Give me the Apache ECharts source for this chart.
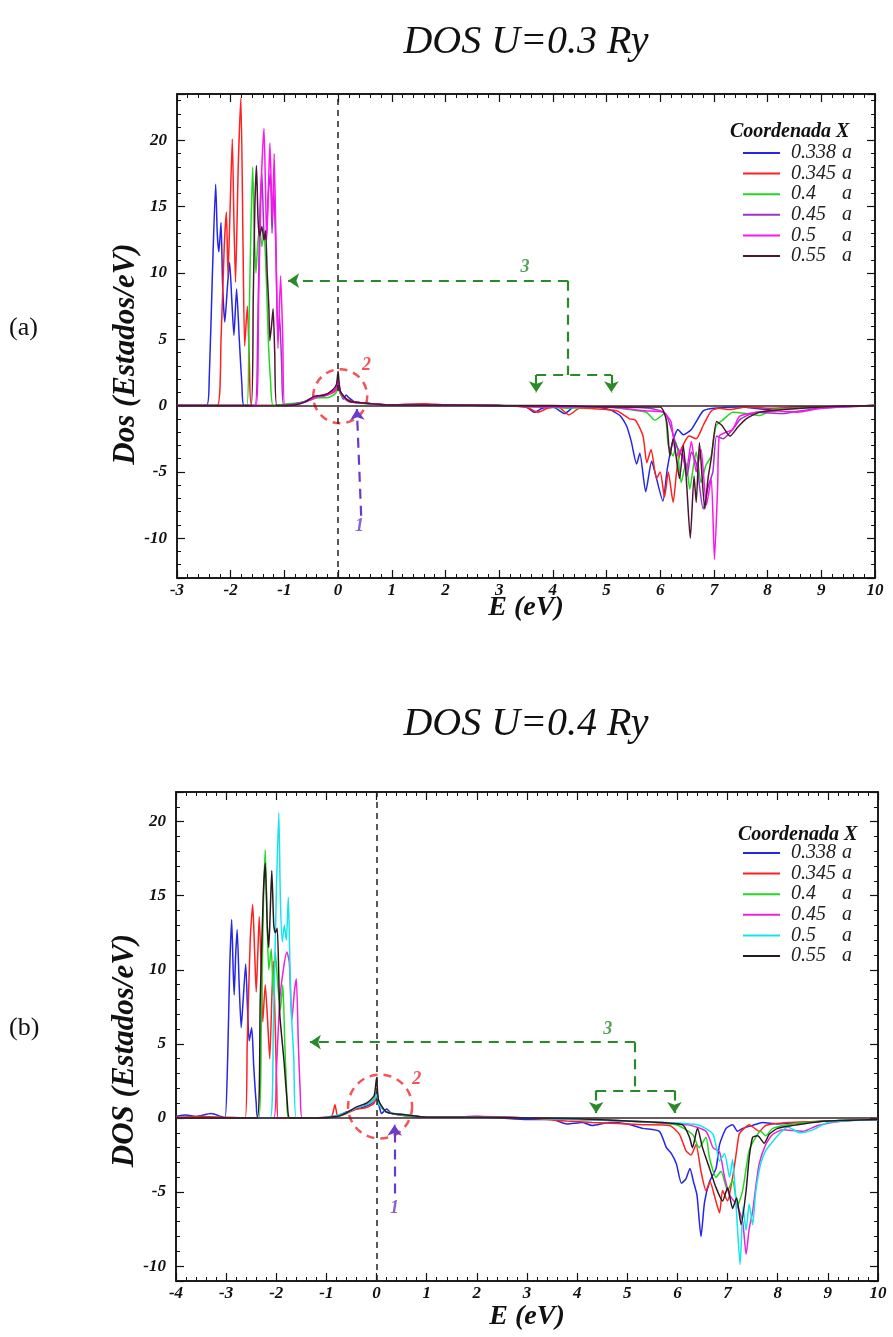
<!DOCTYPE html>
<html>
<head>
<meta charset="utf-8">
<script src="https://cdn.jsdelivr.net/npm/echarts@6/dist/echarts.min.js"></script>
<style>
html, body { margin: 0; padding: 0; background: #fff; }
#chart { width: 893px; height: 1337px; }
</style>
</head>
<body>
<div id="chart"></div>
<script>
// legend entries (Coordenada X)
const coords = ['0.338', '0.345', '0.4', '0.45', '0.5', '0.55'];

// panel (a): DOS U=0.3 Ry, [E (eV), DOS]
const dosA338 = [[-3,0],[-2.45,0],[-2.40,2],[-2.34,10],[-2.28,16.7],[-2.25,13],[-2.22,11.6],[-2.18,13.8],[-2.15,9],[-2.11,6.3],[-2.06,9],[-2.02,10.8],[-1.98,8],[-1.94,5.3],[-1.89,8.8],[-1.84,5],[-1.79,1.5],[-1.75,0],[-1.2,0],[-1.0,0.05],[-0.7,0.2],[-0.45,0.6],[-0.3,0.7],[-0.15,0.9],[-0.05,1.2],[0,1.5],[0.05,0.9],[0.1,0.5],[0.15,0.8],[0.2,0.6],[0.3,0.3],[0.5,0.2],[1,0.05],[1.5,0.1],[2,0.05],[3,0],[3.5,-0.1],[3.66,-0.5],[3.8,-0.2],[4.0,-0.1],[4.22,-0.6],[4.4,-0.1],[4.8,-0.1],[5.06,-0.3],[5.25,-0.75],[5.37,-1.5],[5.46,-2.7],[5.56,-4.4],[5.62,-3.6],[5.73,-6.5],[5.84,-4.2],[5.9,-5.0],[6.05,-7.2],[6.13,-4.8],[6.24,-2.6],[6.33,-1.8],[6.43,-2.2],[6.58,-1.8],[6.8,-0.4],[7.0,-0.2],[7.5,-0.1],[8.0,-0.3],[8.5,-0.1],[9,-0.1],[10,0]];
const dosA345 = [[-3,0],[-2.25,0],[-2.18,5],[-2.12,12],[-2.08,14.6],[-2.05,9.8],[-2.01,15],[-1.97,20.1],[-1.94,14],[-1.91,9.3],[-1.86,18],[-1.81,23.2],[-1.77,12],[-1.74,4.5],[-1.69,7.5],[-1.65,3],[-1.61,0],[-1.2,0],[-0.9,0.1],[-0.6,0.3],[-0.4,0.6],[-0.2,0.8],[-0.05,1.1],[0,1.6],[0.05,1.0],[0.15,0.5],[0.3,0.3],[0.6,0.15],[1,0.05],[1.6,0.15],[2,0.05],[3,0],[3.5,-0.1],[3.72,-0.5],[3.9,-0.2],[4.1,-0.1],[4.3,-0.7],[4.5,-0.2],[5.0,-0.3],[5.2,-0.4],[5.43,-1.0],[5.54,-1.1],[5.68,-2.3],[5.75,-4.3],[5.83,-3.3],[5.93,-5.5],[6.0,-5.0],[6.08,-6.9],[6.15,-5.0],[6.24,-7.3],[6.31,-4.8],[6.39,-3.3],[6.54,-2.3],[6.67,-2.5],[6.8,-1.5],[6.95,-0.4],[7.1,-0.2],[7.3,-0.3],[7.6,-0.1],[8,-0.2],[9,-0.1],[10,0]];
const dosA40 = [[-3,0],[-1.7,0],[-1.66,6],[-1.62,14],[-1.59,18],[-1.56,13],[-1.53,10],[-1.5,12],[-1.46,13.5],[-1.42,12],[-1.38,13],[-1.34,10],[-1.3,5],[-1.26,2],[-1.21,0],[-1.0,0.1],[-0.6,0.3],[-0.4,0.6],[-0.2,0.6],[-0.05,0.9],[0,1.3],[0.05,0.8],[0.2,0.3],[0.5,0.15],[1,0.05],[2,0.05],[3,0],[3.8,-0.1],[4.3,-0.2],[5,-0.1],[5.43,-0.3],[5.74,-0.5],[5.9,-1.1],[6.08,-0.6],[6.15,-3.0],[6.24,-3.8],[6.3,-2.8],[6.39,-5.8],[6.48,-4.3],[6.55,-6.3],[6.62,-4.5],[6.67,-3.5],[6.76,-5.8],[6.85,-4.5],[6.95,-3.8],[7.04,-1.5],[7.16,-1.1],[7.35,-0.5],[7.6,-0.6],[7.85,-0.75],[8.1,-0.3],[8.6,-0.2],[9.2,-0.1],[10,0]];
const dosA45 = [[-3,0],[-1.55,0],[-1.5,5],[-1.46,14],[-1.42,17.5],[-1.38,13],[-1.34,12.5],[-1.3,16],[-1.26,17.5],[-1.23,13],[-1.2,16.5],[-1.16,12],[-1.12,5],[-1.09,6.8],[-1.05,3],[-1.01,0],[-0.6,0.3],[-0.4,0.7],[-0.2,0.9],[-0.05,1.3],[0,2.0],[0.05,1.0],[0.2,0.35],[0.6,0.15],[1,0.05],[2,0.05],[3,0],[4,-0.1],[5,-0.1],[5.8,-0.2],[6.1,-0.6],[6.3,-3],[6.43,-4],[6.5,-5.3],[6.58,-3.5],[6.68,-4.5],[6.8,-7.8],[6.9,-6.0],[6.98,-5.0],[7.05,-2.3],[7.17,-2.5],[7.35,-1.8],[7.5,-1.0],[7.8,-0.5],[8.3,-0.6],[8.6,-0.4],[9,-0.2],[10,0]];
const dosA50 = [[-3,0],[-1.53,0],[-1.48,8],[-1.43,17],[-1.38,20.9],[-1.35,16],[-1.33,12.5],[-1.3,16],[-1.27,19.8],[-1.24,16],[-1.22,14],[-1.19,19],[-1.16,13],[-1.12,4.3],[-1.07,9.8],[-1.03,5],[-0.99,0],[-0.8,0.05],[-0.6,0.3],[-0.4,0.65],[-0.2,0.8],[-0.05,1.2],[0,1.8],[0.05,0.9],[0.2,0.3],[0.6,0.15],[1,0.05],[2,0.05],[3,0],[4,-0.1],[5,-0.1],[5.74,-0.4],[6.05,-0.5],[6.2,-1.2],[6.3,-3.8],[6.39,-3.3],[6.49,-4.8],[6.58,-2.7],[6.67,-5],[6.76,-3.3],[6.86,-7.5],[6.95,-5.5],[7.01,-11.6],[7.07,-6],[7.1,-2.3],[7.23,-2.0],[7.35,-1.8],[7.48,-0.8],[7.8,-0.5],[8.2,-0.4],[8.55,-0.5],[9,-0.2],[10,0]];
const dosA55 = [[-3,0],[-1.62,0],[-1.58,8],[-1.55,15],[-1.52,18.1],[-1.49,14],[-1.46,12.8],[-1.42,13.5],[-1.38,12.5],[-1.35,13.2],[-1.32,10],[-1.29,7.5],[-1.27,4.9],[-1.24,6],[-1.21,7.3],[-1.18,4],[-1.14,0],[-0.8,0.05],[-0.6,0.3],[-0.45,0.7],[-0.25,0.8],[-0.1,1.2],[-0.03,1.6],[0,2.6],[0.04,1.1],[0.2,0.35],[0.6,0.15],[1,0.05],[2,0.05],[3,0],[4,0],[5,-0.1],[6.0,-0.1],[6.12,-1.2],[6.18,-3.8],[6.24,-2.5],[6.36,-5.5],[6.43,-3.0],[6.49,-5.8],[6.56,-10.0],[6.63,-5.3],[6.67,-7.3],[6.73,-2.8],[6.83,-7.8],[6.89,-5.5],[6.95,-4],[7.05,-1.2],[7.15,-1.5],[7.3,-2.3],[7.45,-1.6],[7.6,-1.0],[7.85,-0.5],[8.3,-0.3],[9,-0.1],[10,0]];

// panel (b): DOS U=0.4 Ry
const dosB338 = [[-4,0.1],[-3.8,0.2],[-3.6,0.1],[-3.3,0.3],[-3.1,0.1],[-3.02,0],[-2.97,4],[-2.93,10],[-2.89,13.4],[-2.86,10],[-2.84,8.3],[-2.81,11],[-2.78,12.7],[-2.74,9],[-2.70,6.1],[-2.66,8],[-2.61,10.4],[-2.57,7],[-2.54,5.2],[-2.49,6.1],[-2.45,3.5],[-2.4,1],[-2.36,0],[-1.2,0],[-0.8,0.1],[-0.6,0.4],[-0.4,0.6],[-0.2,0.8],[-0.05,1.1],[0,1.3],[0.05,0.8],[0.1,0.3],[0.2,0.6],[0.3,0.3],[0.6,0.15],[1,0.05],[2,0.1],[2.5,0],[3,-0.1],[3.5,-0.1],[3.8,-0.4],[4.1,-0.3],[4.3,-0.5],[4.65,-0.3],[5.0,-0.4],[5.31,-0.7],[5.64,-0.9],[5.78,-2.0],[5.88,-2.4],[5.98,-3.1],[6.08,-4.4],[6.17,-4.1],[6.25,-3.4],[6.32,-4.3],[6.39,-5.2],[6.47,-8.0],[6.54,-5.7],[6.64,-4.3],[6.77,-3.4],[6.84,-1.8],[6.97,-0.7],[7.1,-0.45],[7.2,-0.9],[7.3,-0.7],[7.5,-0.5],[7.7,-0.3],[8,-0.4],[8.5,-0.3],[9,-0.2],[10,-0.1]];
const dosB345 = [[-4,0.05],[-3.5,0.1],[-3,0.05],[-2.62,0],[-2.58,5],[-2.52,12],[-2.47,14.4],[-2.43,11],[-2.4,8.5],[-2.37,11],[-2.34,13.6],[-2.3,10],[-2.27,6.5],[-2.22,9],[-2.18,7],[-2.13,4.0],[-2.09,8],[-2.06,10.6],[-2.02,6],[-1.99,2],[-1.96,0],[-1.2,0],[-0.9,0.1],[-0.83,0.9],[-0.77,0.1],[-0.6,0.3],[-0.4,0.6],[-0.2,0.7],[-0.05,1.0],[0,1.5],[0.05,0.9],[0.2,0.4],[0.6,0.15],[1,0.05],[2,0.1],[3,0],[3.8,-0.2],[4.3,-0.3],[5.31,-0.45],[5.84,-0.5],[6.04,-1.1],[6.17,-2.2],[6.27,-2.5],[6.37,-1.8],[6.47,-3.6],[6.57,-4.9],[6.65,-4.3],[6.75,-5.4],[6.84,-6.4],[6.9,-4.9],[7.0,-5.6],[7.1,-4.0],[7.16,-2.7],[7.23,-1.1],[7.3,-0.8],[7.43,-0.45],[7.63,-0.9],[7.76,-0.5],[8.2,-0.3],[9,-0.2],[10,-0.1]];
const dosB40 = [[-4,0],[-2.35,0],[-2.3,6],[-2.26,14],[-2.22,18.1],[-2.18,13],[-2.15,10],[-2.1,11.4],[-2.06,8.3],[-2.02,11.2],[-1.97,9],[-1.92,7.3],[-1.87,9],[-1.83,5],[-1.79,1.5],[-1.76,0],[-1.2,0],[-0.8,0.1],[-0.6,0.35],[-0.4,0.7],[-0.2,0.9],[-0.05,1.3],[0,1.8],[0.05,1.0],[0.2,0.4],[0.6,0.15],[1,0.05],[2,0.05],[3,0],[4,-0.1],[5,-0.2],[5.97,-0.45],[6.3,-1.1],[6.43,-2.0],[6.57,-1.3],[6.64,-2.7],[6.77,-4.0],[6.87,-3.6],[7.0,-4.9],[7.1,-4.2],[7.2,-5.9],[7.3,-4.9],[7.43,-2.2],[7.56,-1.3],[7.66,-0.9],[7.76,-1.2],[7.9,-0.7],[8.3,-0.4],[9,-0.2],[10,-0.1]];
const dosB45 = [[-4,0],[-2.05,0],[-2.0,3],[-1.93,8],[-1.86,10],[-1.79,11.2],[-1.74,10.5],[-1.69,6.6],[-1.64,8.5],[-1.6,9.4],[-1.56,5],[-1.52,1.5],[-1.48,0],[-1.0,0.05],[-0.6,0.35],[-0.4,0.7],[-0.2,0.9],[-0.05,1.2],[0,1.7],[0.05,1.0],[0.2,0.4],[0.6,0.2],[1,0.05],[2,0.1],[3,0],[4,-0.1],[5,-0.2],[6.2,-0.45],[6.57,-0.9],[6.71,-2.0],[6.84,-2.3],[6.94,-4.0],[7.04,-5.2],[7.17,-5.8],[7.3,-7.0],[7.37,-9.2],[7.43,-7.5],[7.5,-6.3],[7.56,-4.7],[7.63,-3.1],[7.76,-1.8],[7.9,-1.1],[8.1,-0.8],[8.5,-0.9],[8.8,-0.5],[9.3,-0.2],[10,-0.1]];
const dosB50 = [[-4,0],[-2.12,0],[-2.06,6],[-2.0,15],[-1.95,20.6],[-1.92,15],[-1.88,11.9],[-1.84,13],[-1.8,12],[-1.76,14.9],[-1.72,9],[-1.69,6.5],[-1.65,4],[-1.6,0],[-1.0,0.05],[-0.6,0.35],[-0.4,0.7],[-0.2,0.9],[-0.05,1.2],[0,1.6],[0.05,0.9],[0.2,0.4],[0.6,0.2],[1,0.05],[2,0.05],[3,0],[4,-0.1],[5,-0.2],[6.4,-0.45],[6.71,-1.1],[6.84,-2.9],[6.94,-2.4],[7.04,-4.0],[7.1,-2.8],[7.17,-5.9],[7.25,-9.9],[7.31,-6],[7.37,-7.6],[7.43,-5.8],[7.5,-7.2],[7.56,-5.0],[7.66,-3.1],[7.76,-2.2],[7.9,-1.6],[8.05,-1.0],[8.2,-0.6],[8.45,-1.0],[8.7,-0.8],[9,-0.3],[10,-0.1]];
const dosB55 = [[-4,0],[-2.38,0],[-2.32,8],[-2.26,15],[-2.22,17.2],[-2.18,13],[-2.15,11.5],[-2.12,14],[-2.09,16.7],[-2.05,13],[-2.02,12.5],[-1.98,12.8],[-1.93,7],[-1.85,4],[-1.78,1],[-1.73,0],[-1.2,0],[-0.8,0.1],[-0.6,0.35],[-0.4,0.75],[-0.2,1.0],[-0.05,1.5],[0,2.7],[0.04,1.2],[0.2,0.4],[0.6,0.2],[1,0.05],[2,0.05],[3,0],[4,-0.05],[5,-0.2],[6.1,-0.45],[6.24,-1.3],[6.3,-2.0],[6.4,-0.7],[6.5,-2.0],[6.64,-3.4],[6.77,-4.7],[6.9,-5.6],[7.0,-4.7],[7.1,-6.1],[7.18,-5.4],[7.27,-7.2],[7.37,-4.9],[7.43,-2.7],[7.5,-1.3],[7.6,-1.2],[7.73,-1.7],[7.83,-1.1],[8.0,-0.7],[8.5,-0.4],[9,-0.2],[10,-0.1]];

const dataA = [dosA338, dosA345, dosA40, dosA45, dosA50, dosA55];
const dataB = [dosB338, dosB345, dosB40, dosB45, dosB50, dosB55];
const colorsA = ['#2626e8', '#ff2020', '#22d822', '#9a34c8', '#ff14ee', '#4c1632'];
const colorsB = ['#2626e8', '#ff2020', '#22d822', '#e826d8', '#12e4ee', '#2a1a1e'];

// annotations: dashed segments [x1, y1, x2, y2, arrowAtEnd]
const greenA = [[4.28, 9.42, -0.93, 9.42, 1], [4.28, 9.42, 4.28, 2.31, 0], [3.69, 2.31, 5.09, 2.31, 0], [3.69, 2.31, 3.69, 1.0, 1], [5.09, 2.31, 5.09, 1.0, 1]];
const purpleA = [[0.43, -8.3, 0.35, -0.25, 1]];
const circleA = [0.04, 0.7];
const labelsA = [[3.48, 10.4, '3'], [0.53, 3.0, '2'], [0.40, -9.1, '1']];

const greenB = [[5.15, 5.12, -1.33, 5.12, 1], [5.15, 5.12, 5.15, 1.85, 0], [4.38, 1.85, 5.94, 1.85, 0], [4.38, 1.85, 4.38, 0.34, 1], [5.94, 1.85, 5.94, 0.34, 1]];
const purpleB = [[0.36, -5.1, 0.36, -0.45, 1]];
const circleB = [0.07, 0.77];
const labelsB = [[4.61, 5.98, '3'], [0.80, 2.6, '2'], [0.36, -6.1, '1']];

const serif = 'Liberation Serif';
const labelColors = { '3': '#2a8a2a', '2': '#ee2a2a', '1': '#6a3acc' };

function xAxes(grid, min, max, gap) {
  const base = {
    gridIndex: grid, type: 'value', min: min, max: max, interval: 1,
    axisLine: { onZero: false, lineStyle: { color: '#111', width: 1.5 } },
    axisTick: { inside: true, length: 8, lineStyle: { color: '#111', width: 1.2 } },
    minorTick: { show: true, splitNumber: 5, length: 4, lineStyle: { color: '#111', width: 1 } },
    splitLine: { show: false }
  };
  return [
    Object.assign({}, base, {
      position: 'bottom',
      axisLabel: { fontFamily: serif, fontStyle: 'italic', fontWeight: 'bold', fontSize: 17, color: '#111', margin: 4 },
      name: 'E (eV)', nameLocation: 'middle', nameGap: gap, nameMoveOverlap: false,
      nameTextStyle: { fontFamily: serif, fontStyle: 'italic', fontWeight: 'bold', fontSize: 28, color: '#111' }
    }),
    Object.assign({}, base, { position: 'top', axisLabel: { show: false } })
  ];
}

function yAxes(grid, min, max, name, shift) {
  const base = {
    gridIndex: grid, type: 'value', min: min, max: max, splitNumber: 7,
    axisLine: { onZero: false, lineStyle: { color: '#111', width: 1.5 } },
    axisTick: { inside: true, length: 8, lineStyle: { color: '#111', width: 1.2 } },
    minorTick: { show: true, splitNumber: 5, length: 4, lineStyle: { color: '#111', width: 1 } },
    splitLine: { show: false }
  };
  return [
    Object.assign({}, base, {
      position: 'left',
      axisLabel: { fontFamily: serif, fontStyle: 'italic', fontWeight: 'bold', fontSize: 17, color: '#111', margin: 10, showMinLabel: false, showMaxLabel: false },
      name: name, nameLocation: 'middle', nameGap: 36, nameRotate: 90, nameMoveOverlap: false,
      nameTextStyle: { fontFamily: serif, fontStyle: 'italic', fontWeight: 'bold', fontSize: 31, color: '#111', padding: [0, shift, 0, 0] }
    }),
    Object.assign({}, base, { position: 'right', axisLabel: { show: false } })
  ];
}

function dosSeries(prefix, data, colors, xi, yi) {
  return data.map((d, i) => ({
    name: prefix + coords[i], type: 'line', xAxisIndex: xi, yAxisIndex: yi,
    data: d, symbol: 'none', smooth: 0.2,
    lineStyle: { color: colors[i], width: 1.5 }, itemStyle: { color: colors[i] }
  }));
}

function segs(list, color) {
  return list.map(s => [
    { coord: [s[0], s[1]], symbol: 'none', lineStyle: { color: color, type: [10, 7], width: 2.2 } },
    { coord: [s[2], s[3]], symbol: s[4] ? 'arrow' : 'none' }
  ]);
}

function annotSeries(xi, yi, green, purple, circle, labels) {
  return [
    {
      type: 'scatter', xAxisIndex: xi, yAxisIndex: yi, silent: true, clip: false,
      data: [circle], symbol: 'circle', symbolSize: xi === 0 ? 54 : 64,
      itemStyle: { color: 'rgba(0,0,0,0)', borderColor: '#ee2a2a', borderWidth: 2.5, borderType: [8, 6] },
      markLine: {
        silent: true, symbol: 'none', symbolSize: 11, label: { show: false },
        data: [
          { yAxis: 0, lineStyle: { color: '#3a2228', type: 'solid', width: 1.6 } },
          { xAxis: 0, lineStyle: { color: '#222', type: [6, 5], width: 1.5 } }
        ].concat(segs(green, '#2a8a2a'), segs(purple, '#6a3acc'))
      }
    },
    {
      type: 'scatter', xAxisIndex: xi, yAxisIndex: yi, silent: true, clip: false,
      symbolSize: 0,
      data: labels.map(l => ({ name: l[2], value: [l[0], l[1]], label: { color: labelColors[l[2]] } })),
      label: { show: true, position: 'inside', formatter: '{b}', fontFamily: serif, fontStyle: 'italic', fontWeight: 'bold', fontSize: 18 }
    }
  ];
}

function legendFor(prefix, top) {
  return {
    orient: 'vertical', left: 743, top: top, padding: 0, icon: 'rect', itemWidth: 37, itemHeight: 2, itemGap: 0.6,
    data: coords.map(c => prefix + c),
    selectedMode: false,
    formatter: n => '{n|' + n.slice(2) + '}{u|a}',
    textStyle: {
      fontFamily: serif, fontStyle: 'italic', fontSize: 20, color: '#222', lineHeight: 20,
      rich: {
        n: { width: 51, padding: [0, 0, 0, 6], fontFamily: serif, fontStyle: 'italic', fontSize: 20, lineHeight: 20, color: '#222' },
        u: { fontFamily: serif, fontStyle: 'italic', fontSize: 20, lineHeight: 20, color: '#222' }
      }
    }
  };
}

const titleStyle = { fontFamily: serif, fontStyle: 'italic', fontWeight: 'normal', fontSize: 40, color: '#111' };
const headStyle = { fontFamily: serif, fontStyle: 'italic', fontWeight: 'bold', fontSize: 20, color: '#111' };
const tagStyle = { fontFamily: serif, fontWeight: 'normal', fontSize: 26, color: '#111' };

const chart = echarts.init(document.getElementById('chart'));
chart.setOption({
  animation: false,
  backgroundColor: '#fff',
  title: [
    { text: 'DOS U=0.3 Ry', left: 526, top: 22, textAlign: 'center', textStyle: titleStyle, padding: 0 },
    { text: 'DOS U=0.4 Ry', left: 526, top: 704, textAlign: 'center', textStyle: titleStyle, padding: 0 },
    { text: 'Coordenada X', left: 730, top: 122, textStyle: headStyle, padding: 0 },
    { text: 'Coordenada X', left: 738, top: 825, textStyle: headStyle, padding: 0 },
    { text: '(a)', left: 9, top: 315, textStyle: tagStyle, padding: 0 },
    { text: '(b)', left: 9, top: 1015, textStyle: tagStyle, padding: 0 }
  ],
  legend: [legendFor('A ', 143), legendFor('B ', 843)],
  grid: [
    { left: 177, right: 18, top: 94, height: 484, show: true, borderColor: '#111', borderWidth: 1.5, backgroundColor: 'transparent' },
    { left: 176, right: 15, top: 792, height: 489, show: true, borderColor: '#111', borderWidth: 1.5, backgroundColor: 'transparent' }
  ],
  xAxis: xAxes(0, -3, 10, 16).concat(xAxes(1, -4, 10, 22)),
  yAxis: yAxes(0, -13, 23.5, 'Dos (Estados/eV)', 36).concat(yAxes(1, -11, 22, 'DOS (Estados/eV)', 28)),
  series: dosSeries('A ', dataA, colorsA, 0, 0)
    .concat(dosSeries('B ', dataB, colorsB, 2, 2))
    .concat(annotSeries(0, 0, greenA, purpleA, circleA, labelsA))
    .concat(annotSeries(2, 2, greenB, purpleB, circleB, labelsB))
});
</script>
</body>
</html>
